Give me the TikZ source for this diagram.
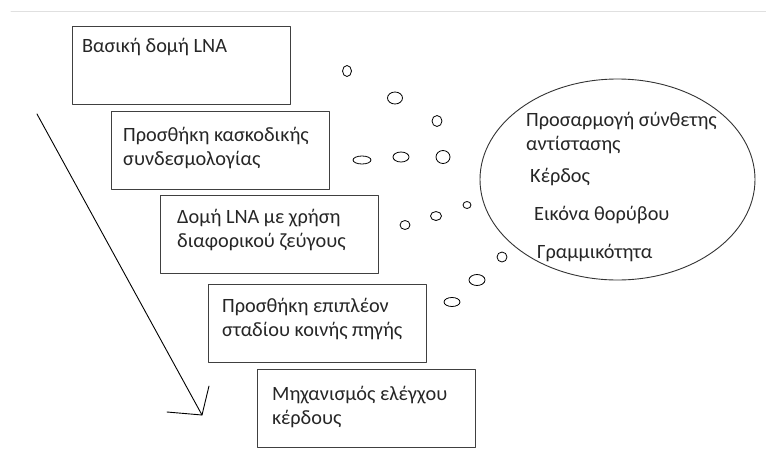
\documentclass[tikz,border=0pt]{standalone}
\usepackage{fontspec}
\setmainfont{Carlito}
\usetikzlibrary{shapes.geometric}
\begin{document}
\begin{tikzpicture}[x=1pt,y=-1pt,line join=round,line cap=round,font=\fontsize{20.3}{24}\selectfont,
	box/.style={draw=black!75,line width=1.1pt,anchor=north west,inner sep=0pt,minimum width=218pt,minimum height=78pt},
	txt/.style={anchor=base west,align=left,inner sep=0pt,text=black!85}]
	\useasboundingbox (0,0) rectangle (766,464);
	\draw[black!12,line width=1pt] (11,11)--(766,11);
	% boxes, each one step down and right
	\node[box] (b1) at (72,26) {};
	\node[box] (b2) at (111,111) {};
	\node[box] (b3) at (160,195) {};
	\node[box] (b4) at (208,284) {};
	\node[box] (b5) at (257,369) {};
	% texts (base = last line)
	\node[txt] (t1) at (82,52) {Βασική δομή LNA};
	\node[txt] (t2) at (123,165) {Προσθήκη κασκοδικής\\συνδεσμολογίας};
	\node[txt] (t3) at (177,247) {Δομή LNA με χρήση\\διαφορικού ζεύγους};
	\node[txt] (t4) at (222,336) {Προσθήκη επιπλέον\\σταδίου κοινής πηγής};
	\node[txt] (t5) at (272,424) {Μηχανισμός ελέγχου\\κέρδους};
	% hand drawn arrow
	\coordinate (a0) at (37,114);
	\coordinate (a1) at (202,415);
	\coordinate (ba) at (167,412);
	\coordinate (bb) at (209,386);
	\draw[line width=0.9pt] (a0)--(a1);
	\draw[line width=0.9pt] (ba)--(a1)--(bb);
	% thought bubbles
	\foreach \x/\y/\a/\b in {347/71/4.5/5.5,395/98/7.5/6,437/121/5/5.5,362/160/9/4,401/157/8/5,
		443/157/7/6.5,467/205/4/3.5,436/216/5.5/4.5,405/225/5/4.5,502/257/5/5,477/280/8/5.5,452/302/8/4.5}
	\draw[line width=0.8pt] (\x,\y) ellipse (\a pt and \b pt);
	\node[draw=black!80,line width=0.9pt,ellipse,minimum width=275pt,minimum height=201pt] (ell) at (617.5,179.5) {};
	\node[txt] (e1) at (526,150) {Προσαρμογή σύνθετης\\αντίστασης};
	\node[txt] (e2) at (530,182) {Κέρδος};
	\node[txt] (e3) at (534,220) {Εικόνα θορύβου};
	\node[txt] (e4) at (537,258) {Γραμμικότητα};
\end{tikzpicture}
\end{document}
